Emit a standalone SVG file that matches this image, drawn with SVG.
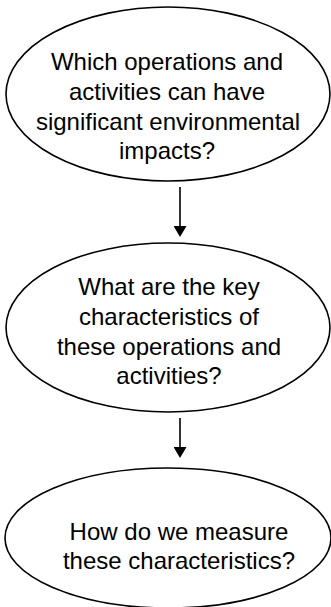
<svg xmlns="http://www.w3.org/2000/svg" width="331" height="607" viewBox="0 0 331 607">
<style>
.node ellipse{fill:#fff;stroke:#000;stroke-width:1.6}
.node text{font-family:"Liberation Sans",Arial,sans-serif;font-size:24px;fill:#000;text-anchor:middle}
.conn line{stroke:#000;stroke-width:1.6;marker-end:url(#ah)}
</style>
<defs>
<marker id="ah" markerWidth="11" markerHeight="13" refX="0" refY="6.5" orient="auto" markerUnits="userSpaceOnUse" viewBox="0 0 11 13">
<path d="M0,0 L11,6.5 L0,13 Z" fill="#000"/>
</marker>
</defs>
<rect width="331" height="607" fill="#fff"/>
<g id="node1" class="node">
<ellipse cx="168" cy="94" rx="162" ry="87"/>
<text x="167" y="70">Which operations and</text>
<text x="167" y="100">activities can have</text>
<text x="168" y="130">significant environmental</text>
<text x="167" y="159">impacts?</text>
</g>
<g id="node2" class="node">
<ellipse cx="168" cy="327.5" rx="162" ry="84.5"/>
<text x="169" y="295">What are the key</text>
<text x="169" y="325">characteristics of</text>
<text x="169" y="355">these operations and</text>
<text x="169" y="384">activities?</text>
</g>
<g id="node3" class="node">
<ellipse cx="168" cy="538" rx="163" ry="70"/>
<text x="179" y="540">How do we measure</text>
<text x="179" y="569">these characteristics?</text>
</g>
<g id="connectors" class="conn">
<line x1="180" y1="187" x2="180" y2="226"/>
<line x1="180" y1="418" x2="180" y2="447"/>
</g>
</svg>
